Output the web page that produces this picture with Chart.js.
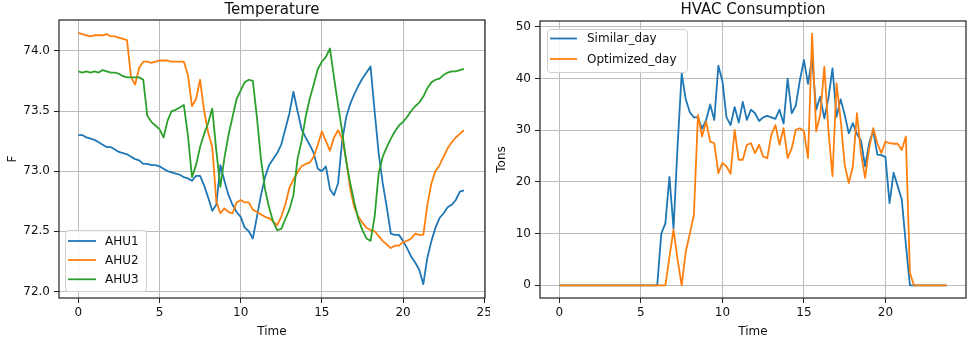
<!DOCTYPE html>
<html><head><meta charset="utf-8">
<script src="https://cdn.jsdelivr.net/npm/chart.js@4.4.1/dist/chart.umd.min.js"></script>
<style>
html,body{margin:0;padding:0;background:#fff;width:969px;height:339px;overflow:hidden}
canvas{position:absolute;top:0}
#c1{left:0}
#c2{left:490px}
</style></head><body>
<canvas id="c1" width="490" height="339" style="width:490px;height:339px"></canvas>
<canvas id="c2" width="479" height="339" style="width:479px;height:339px"></canvas>
<script>
// ---- data (15-minute samples, hours 0 .. 23.75) ----
const timeHours = Array.from({length: 96}, (_, i) => i * 0.25);

const ahu1 = [
73.30,73.30,73.28,73.27,73.26,73.24,73.22,73.20,73.20,73.18,73.16,73.15,73.14,73.12,73.10,73.09,73.06,73.06,73.05,73.05,73.04,73.02,73.00,72.99,
72.98,72.97,72.95,72.94,72.92,72.96,72.96,72.88,72.78,72.67,72.72,73.05,72.92,72.80,72.72,72.66,72.62,72.53,72.50,72.44,72.62,72.80,72.95,73.05,
73.10,73.15,73.22,73.35,73.48,73.66,73.50,73.35,73.28,73.22,73.15,73.02,73.00,73.04,72.85,72.80,72.90,73.25,73.45,73.56,73.64,73.71,73.77,73.82,
73.87,73.50,73.15,72.90,72.70,72.48,72.47,72.47,72.42,72.36,72.29,72.24,72.18,72.06,72.28,72.42,72.53,72.61,72.65,72.70,72.72,72.76,72.83,72.84];

const ahu2 = [
74.15,74.14,74.13,74.12,74.13,74.13,74.13,74.14,74.12,74.12,74.11,74.10,74.09,73.78,73.72,73.86,73.91,73.91,73.90,73.91,73.92,73.92,73.92,73.91,
73.91,73.91,73.91,73.80,73.54,73.60,73.76,73.50,73.32,73.20,72.75,72.65,72.69,72.66,72.65,72.74,72.76,72.74,72.74,72.68,72.66,72.64,72.62,72.61,
72.58,72.55,72.62,72.72,72.86,72.93,72.99,73.04,73.06,73.07,73.12,73.22,73.33,73.25,73.17,73.28,73.34,73.27,73.10,72.85,72.70,72.62,72.57,72.53,
72.51,72.50,72.46,72.42,72.39,72.36,72.38,72.38,72.41,72.42,72.44,72.48,72.47,72.47,72.72,72.90,73.00,73.05,73.12,73.19,73.24,73.28,73.31,73.34];

const ahu3 = [
73.83,73.82,73.83,73.82,73.83,73.82,73.84,73.83,73.82,73.82,73.81,73.79,73.78,73.78,73.78,73.78,73.76,73.46,73.41,73.38,73.35,73.28,73.42,73.50,
73.51,73.53,73.55,73.30,72.95,73.05,73.20,73.31,73.40,73.52,73.17,72.87,73.11,73.30,73.45,73.60,73.67,73.74,73.76,73.75,73.45,73.10,72.85,72.70,
72.58,72.51,72.52,72.60,72.68,72.80,73.10,73.25,73.45,73.60,73.72,73.85,73.91,73.95,74.02,73.78,73.55,73.33,73.08,72.90,72.74,72.60,72.51,72.44,
72.42,72.62,72.98,73.12,73.20,73.27,73.33,73.38,73.41,73.45,73.50,73.54,73.57,73.62,73.69,73.74,73.76,73.77,73.80,73.82,73.83,73.83,73.84,73.85];

const similarDay = [
0,0,0,0,0,0,0,0,0,0,0,0,0,0,0,0,0,0,0,0,0,0,0,0,
0,10,12,21,11,27,41,36,33.5,32.5,32.5,30.3,32,35,32,42.5,39.5,32.5,31,34.5,31.5,35.5,32,34,
33.3,31.8,32.5,32.8,32.5,32.2,34,31.3,40,33.3,34.8,39.7,43.6,39,44,34,36.5,32.3,36.2,42,32.6,36,33,29.4,
31.4,29.3,28,23,27.5,30,25.3,25.2,24.8,15.9,21.8,19.2,16.6,8,0,0,0,0,0,0,0,0,0,0];

const optimizedDay = [
0,0,0,0,0,0,0,0,0,0,0,0,0,0,0,0,0,0,0,0,0,0,0,0,
0,0,0,5.5,10.8,5,0,6.5,10,13.7,33,28.8,31.7,27.8,27.5,21.7,23.7,23,21.6,30.1,24.3,24.3,27.2,27.5,
25.6,27.2,24.9,24.6,29.1,31,27.2,30.4,24.6,26.5,30.1,30.4,29.8,24.6,48.7,29.8,33,42.3,30.1,21.1,39.1,32,23.3,19.8,
23,33.3,25.6,20.8,26.5,30.4,27.5,25.6,27.8,27.5,27.4,27.4,26.2,28.8,2.4,0,0,0,0,0,0,0,0,0];

const tempXTicks = [0, 5, 10, 15, 20, 25];
const tempYTicks = [72.0, 72.5, 73.0, 73.5, 74.0];
const hvacXTicks = [0, 5, 10, 15, 20];
const hvacYTicks = [0, 10, 20, 30, 40, 50];

// ---- helpers ----
const FONT = 'DejaVu Sans';
const toXY = vals => vals.map((v, i) => ({x: timeHours[i], y: v}));

const decor = {
  id: 'decor',
  afterDraw(chart, args, o) {
    const ctx = chart.ctx, a = chart.chartArea;
    ctx.save();
    ctx.strokeStyle = '#222'; ctx.lineWidth = 1.2;
    ctx.strokeRect(a.left, a.top, a.right - a.left, a.bottom - a.top);
    ctx.fillStyle = '#111';
    ctx.font = '15px "' + FONT + '"';
    ctx.textAlign = 'center'; ctx.textBaseline = 'alphabetic';
    ctx.fillText(o.title, (a.left + a.right) / 2, o.titleY);
    ctx.font = '12px "' + FONT + '"';
    ctx.fillText(o.xTitle, (a.left + a.right) / 2, o.xTitleY);
    ctx.save();
    ctx.translate(o.yTitleX, (a.top + a.bottom) / 2);
    ctx.rotate(-Math.PI / 2);
    ctx.fillText(o.yTitle, 0, 0);
    ctx.restore();
    const L = o.legend;
    ctx.beginPath();
    ctx.roundRect(L.x0 + 0.5, L.y0 + 0.5, L.x1 - L.x0, L.y1 - L.y0, 3);
    ctx.fillStyle = 'rgba(255,255,255,0.85)';
    ctx.fill();
    ctx.strokeStyle = '#d0d0d0'; ctx.lineWidth = 1;
    ctx.stroke();
    ctx.textAlign = 'left'; ctx.textBaseline = 'middle';
    chart.data.datasets.forEach((ds, i) => {
      const y = L.rows[i];
      ctx.beginPath();
      ctx.strokeStyle = ds.borderColor; ctx.lineWidth = 1.8;
      ctx.moveTo(L.lx0, y); ctx.lineTo(L.lx1, y); ctx.stroke();
      ctx.fillStyle = '#111';
      ctx.fillText(ds.label, L.tx, y + 0.5);
    });
    ctx.restore();
  }
};

function xScale(min, max, ticks) {
  return {
    type: 'linear', min, max,
    afterBuildTicks(s) { s.ticks = ticks.filter(v => v >= min && v <= max).map(v => ({value: v})); },
    afterFit(s) { s.height = 41; s.paddingLeft = 0; s.paddingRight = 0; },
    ticks: {color: '#111', font: {family: FONT, size: 12}, padding: 3, maxRotation: 0, autoSkip: false,
            callback: v => String(v)},
    grid: {color: '#bcbcbc', lineWidth: 1, tickColor: '#222', tickLength: 5, drawTicks: true},
    border: {display: false}
  };
}
function yScale(min, max, ticks, width, fmt) {
  return {
    type: 'linear', min, max,
    afterBuildTicks(s) { s.ticks = ticks.map(v => ({value: v})); },
    afterFit(s) { s.width = width; s.paddingTop = 0; s.paddingBottom = 0; },
    ticks: {color: '#111', font: {family: FONT, size: 12}, padding: 4, autoSkip: false, callback: fmt},
    grid: {color: '#bcbcbc', lineWidth: 1, tickColor: '#222', tickLength: 5, drawTicks: true},
    border: {display: false}
  };
}
function ds(label, vals, color, order) {
  return {label, data: toXY(vals), borderColor: color, backgroundColor: color, borderWidth: 1.8,
          pointRadius: 0, tension: 0, fill: false, borderJoinStyle: 'round', order};
}

new Chart(document.getElementById('c1'), {
  type: 'line',
  data: {datasets: [
    ds('AHU1', ahu1, '#1f77b4', 3),
    ds('AHU2', ahu2, '#ff7f0e', 2),
    ds('AHU3', ahu3, '#2ca02c', 1)
  ]},
  options: {
    responsive: false, animation: false, events: [],
    layout: {padding: {top: 20, right: 5, bottom: 0, left: 0}},
    scales: {
      x: xScale(-1.19, 25.05, tempXTicks),
      y: yScale(71.945, 74.257, tempYTicks, 59, v => v.toFixed(1))
    },
    plugins: {
      legend: {display: false}, tooltip: {enabled: false}, title: {display: false},
      decor: {title: 'Temperature', titleY: 14, xTitle: 'Time', xTitleY: 335, yTitle: 'F', yTitleX: 16,
              legend: {x0: 65, y0: 230, x1: 146, y1: 291, rows: [241, 260, 279.3], lx0: 68, lx1: 96, tx: 105}}
    }
  },
  plugins: [decor]
});

new Chart(document.getElementById('c2'), {
  type: 'line',
  data: {datasets: [
    ds('Similar_day', similarDay, '#1f77b4', 2),
    ds('Optimized_day', optimizedDay, '#ff7f0e', 1)
  ]},
  options: {
    responsive: false, animation: false, events: [],
    layout: {padding: {top: 21, right: 3, bottom: 0, left: 0}},
    scales: {
      x: xScale(-1.19, 24.94, hvacXTicks),
      y: yScale(-2.45, 51.15, hvacYTicks, 50, v => String(v))
    },
    plugins: {
      legend: {display: false}, tooltip: {enabled: false}, title: {display: false},
      decor: {title: 'HVAC Consumption', titleY: 14, xTitle: 'Time', xTitleY: 335, yTitle: 'Tons', yTitleX: 15,
              legend: {x0: 57, y0: 29, x1: 197, y1: 72, rows: [38.5, 59], lx0: 60, lx1: 87, tx: 97}}
    }
  },
  plugins: [decor]
});
</script></body></html>
